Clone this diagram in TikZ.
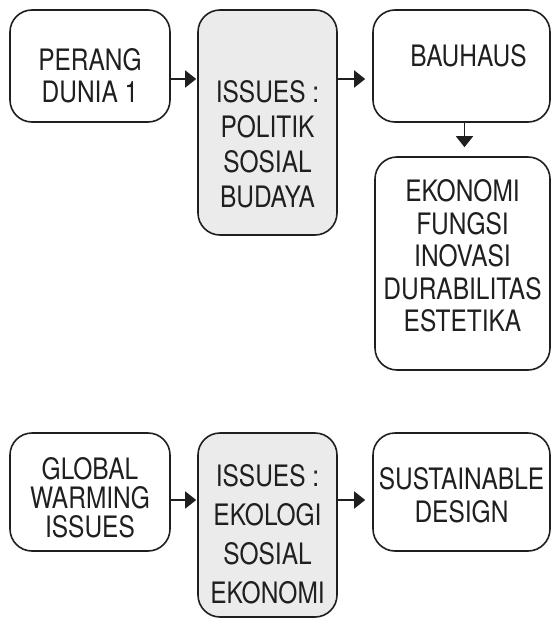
\documentclass[tikz,border=0pt]{standalone}
\usepackage{fontspec}
\setmainfont{TeX Gyre Heros}[FakeStretch=0.83]
\usetikzlibrary{arrows.meta}

\begin{document}
\begin{tikzpicture}[x=1pt, y=-1pt,
  box/.style={draw=black!88, line width=1.6pt, rounded corners=22pt, inner sep=0pt},
  txt/.style={align=center, inner sep=0pt, text=black!88},
  arr/.style={-{Triangle[length=11pt,width=17pt]}, line width=1.6pt, draw=black!88}]
  \useasboundingbox (0,0) rectangle (551,618);

  \colorlet{c0}{black!8}

  % top row
  \node[box, minimum width=160pt, minimum height=112pt] (perang) at (90,66) {};
  \node[box, fill=c0, minimum width=139pt, minimum height=225pt] (politik) at (267.5,122.5) {};
  \node[box, minimum width=177pt, minimum height=112pt] (bauhaus) at (461.5,66) {};
  \node[box, minimum width=175pt, minimum height=213pt] (ekonomi) at (462.5,263.5) {};

  \node[txt, font=\fontsize{29.5pt}{31.6pt}\selectfont] (perangtext) at ([yshift=-9.5pt]perang.center) {PERANG\\DUNIA 1};
  \node[txt, font=\fontsize{29.5pt}{35pt}\selectfont] (politiktext) at ([yshift=-21.5pt]politik.center) {ISSUES :\\POLITIK\\SOSIAL\\BUDAYA};
  \node[txt, font=\fontsize{29.5pt}{32pt}\selectfont] (bauhaustext) at ([xshift=7pt,yshift=10pt]bauhaus.center) {BAUHAUS};
  \node[txt, font=\fontsize{29.5pt}{32.5pt}\selectfont] (ekonomitext) at ([yshift=7.5pt]ekonomi.center) {EKONOMI\\FUNGSI\\INOVASI\\DURABILITAS\\ESTETIKA};

  \draw[arr, shorten >=1pt] ([yshift=-13pt]perang.east) -- ([yshift=-13pt]perang.east -| politik.west);
  \draw[arr, shorten >=7pt] ([yshift=-13pt]perang.east -| politik.east) -- ([yshift=-13pt]perang.east -| bauhaus.west);
  \draw[arr, shorten >=9pt] ([xshift=3pt]bauhaus.south) -- ([xshift=3pt]bauhaus.south |- ekonomi.north);

  % bottom row
  \node[box, minimum width=160pt, minimum height=118pt] (global) at (90,492) {};
  \node[box, fill=c0, minimum width=139pt, minimum height=184pt] (ekologi) at (267.5,525) {};
  \node[box, minimum width=177pt, minimum height=118pt] (sustainable) at (461.5,492) {};

  \node[txt, font=\fontsize{29.5pt}{29pt}\selectfont] (globaltext) at ([yshift=-5.5pt]global.center) {GLOBAL\\WARMING\\ISSUES};
  \node[txt, font=\fontsize{29.5pt}{39pt}\selectfont] (ekologitext) at ([yshift=-9.5pt]ekologi.center) {ISSUES :\\EKOLOGI\\SOSIAL\\EKONOMI};
  \node[txt, font=\fontsize{29.5pt}{33pt}\selectfont] (sustainabletext) at ([yshift=-3pt]sustainable.center) {SUSTAINABLE\\DESIGN};

  \draw[arr, shorten >=1pt] ([yshift=-8pt]global.east) -- ([yshift=-8pt]global.east -| ekologi.west);
  \draw[arr, shorten >=7pt] ([yshift=-8pt]global.east -| ekologi.east) -- ([yshift=-8pt]global.east -| sustainable.west);
\end{tikzpicture}
\end{document}
